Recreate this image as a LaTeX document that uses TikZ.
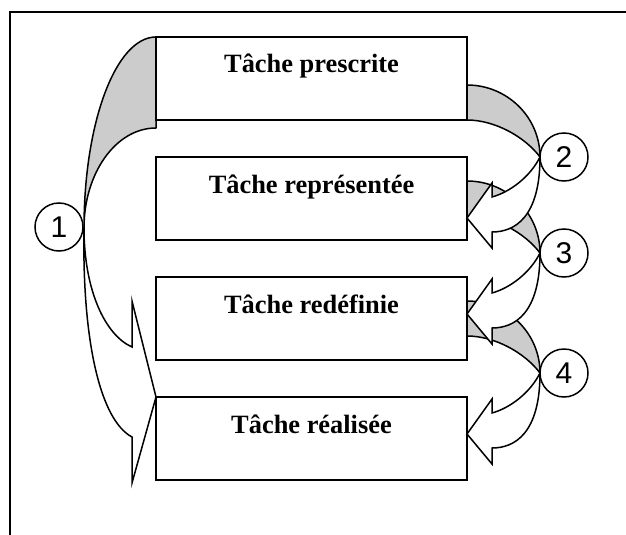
\documentclass[tikz,border=0pt]{standalone}
\usepackage{fontspec}
\setmainfont{Liberation Serif}
\newfontfamily\numfont{Liberation Sans}
\definecolor{bandgray}{RGB}{204,204,204}

\begin{document}
\begin{tikzpicture}[x=1pt,y=-1pt]
        \tikzset{TaskStyle/.style={draw, line width=2.2pt, fill=white,
                minimum width=311pt, minimum height=83pt, inner sep=0pt,
                text height=18pt, text depth=29pt,
                font=\fontsize{26.4}{30}\selectfont\bfseries}}
        \tikzset{StepStyle/.style={draw, circle, line width=1.5pt, fill=white,
                minimum size=48pt, inner sep=0pt,
                font=\fontsize{30}{30}\selectfont\numfont}}
        \tikzset{BackStyle/.style={draw, line width=1.5pt, fill=bandgray, line join=round}}
        \tikzset{FrontStyle/.style={draw, line width=1.5pt, fill=white}}
        \clip (0,0) rectangle (626,535);
        \draw[line width=2.2pt] (10,12) rectangle (700,600);
        \filldraw[BackStyle] (156,37) .. controls (116,37) and (84,122) .. (84,228)
                .. controls (84,173) and (116,128) .. (156,128) -- cycle;
        \foreach \c in {157,253,373}
                \filldraw[BackStyle] (467,\c-72) .. controls (507,\c-72) and (540,\c-40) .. (540,\c)
                        .. controls (525,\c-20) and (495,\c-37) .. (467,\c-37) -- cycle;
        \filldraw[FrontStyle] (84,228) .. controls (84,290) and (105,335) .. (132,347)
                -- (132,301) -- (156,397) -- (132,483) -- (132,437)
                .. controls (100,420) and (82,340) .. (84,228) -- cycle;
        \foreach \c in {157,253,373}
                \filldraw[FrontStyle] (540,\c) .. controls (530,\c+20) and (510,\c+35) .. (492,\c+40)
                        -- (492,\c+26) -- (467,\c+61) -- (492,\c+91) -- (492,\c+75)
                        .. controls (515,\c+75) and (540,\c+60) .. (540,\c) -- cycle;
        \node[TaskStyle] (prescrite) at (311.5,78.5) {Tâche prescrite};
        \node[TaskStyle] (representee) at (311.5,198.5) {Tâche représentée};
        \node[TaskStyle] (redefinie) at (311.5,318.5) {Tâche redéfinie};
        \node[TaskStyle] (realisee) at (311.5,438.5) {Tâche réalisée};
        \node[StepStyle] (s1) at (59,227) {1};
        \node[StepStyle] (s2) at (564,157) {2};
        \node[StepStyle] (s3) at (564,253) {3};
        \node[StepStyle] (s4) at (564,373) {4};
\end{tikzpicture}
\end{document}
